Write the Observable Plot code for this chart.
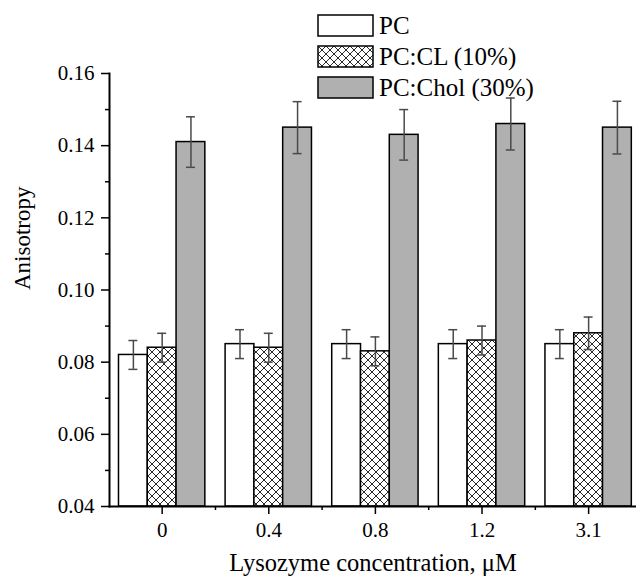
<!DOCTYPE html>
<html>
<head>
<meta charset="utf-8">
<script src="https://cdn.jsdelivr.net/npm/d3@7"></script>
<script src="https://cdn.jsdelivr.net/npm/@observablehq/plot@0.6"></script>
<style>
  html, body { margin: 0; padding: 0; background: white; }
  #chart { width: 636px; height: 577px; position: relative; }
</style>
</head>
<body>
<div id="chart"></div>
<script>
// ---- data ----
const categories = ["0", "0.4", "0.8", "1.2", "3.1"];
const seriesNames = ["PC", "PC:CL (10%)", "PC:Chol (30%)"];
const pcValues   = [0.082, 0.085, 0.085, 0.085, 0.085];
const pcErrors   = [0.004, 0.004, 0.004, 0.004, 0.004];
const clValues   = [0.084, 0.084, 0.083, 0.086, 0.088];
const clErrors   = [0.004, 0.004, 0.004, 0.004, 0.0045];
const cholValues = [0.141, 0.145, 0.143, 0.146, 0.145];
const cholErrors = [0.007, 0.0072, 0.007, 0.0072, 0.0073];
const yTicks = [0.04, 0.06, 0.08, 0.10, 0.12, 0.14, 0.16];
const yMinorTicks = [0.05, 0.07, 0.09, 0.11, 0.13, 0.15];
const xTitle = "Lysozyme concentration, \u03BCM";
const yTitle = "Anisotropy";

// ---- build table ----
const values = [pcValues, clValues, cholValues];
const errors = [pcErrors, clErrors, cholErrors];
const rows = [];
categories.forEach((c, i) => seriesNames.forEach((s, j) => {
  rows.push({i, j, series: s, value: values[j][i], err: errors[j][i]});
}));
const BW = 0.27;      // bar width in category units
const CAP = 0.042;    // half cap width in category units
const left = d => d.i + (d.j - 1.5) * BW;
const right = d => d.i + (d.j - 0.5) * BW;
const mid = d => d.i + (d.j - 1) * BW;
const xIdx = categories.map((c, i) => i);
const xMinor = categories.slice(1).map((c, i) => i + 0.5);

const font = "Liberation Serif, Times New Roman, serif";
const HATCH_PLACEHOLDER = "#fefefe";

const bars = (j, fill) => Plot.rectY(rows.filter(d => d.j === j), {
  x1: left, x2: right, y1: () => yTicks[0], y2: "value",
  fill, stroke: "black", strokeWidth: 1.5
});

const plot = Plot.plot({
  width: 636, height: 577,
  marginLeft: 109, marginRight: 0, marginTop: 73, marginBottom: 71,
  style: {fontFamily: font, fontSize: "21px", color: "black", background: "white", overflow: "visible"},
  x: {domain: [-0.494, 4.449], axis: null},
  y: {domain: [yTicks[0], yTicks[yTicks.length - 1]], axis: null},
  marks: [
    bars(0, "white"),
    bars(1, HATCH_PLACEHOLDER),
    bars(2, "#b0b0b0"),
    Plot.ruleX(rows, {x: mid, y1: d => d.value - d.err, y2: d => d.value + d.err, stroke: "#4a4a4a", strokeWidth: 1.5}),
    Plot.ruleY(rows, {x1: d => mid(d) - CAP, x2: d => mid(d) + CAP, y: d => d.value + d.err, stroke: "#4a4a4a", strokeWidth: 1.5}),
    Plot.ruleY(rows, {x1: d => mid(d) - CAP, x2: d => mid(d) + CAP, y: d => d.value - d.err, stroke: "#4a4a4a", strokeWidth: 1.5}),
    Plot.axisY(yTicks, {tickSize: 8, tickPadding: 7, tickFormat: d3.format(".2f"), label: null, strokeWidth: 1.5, fontSize: 21}),
    Plot.axisY(yMinorTicks, {tickSize: 4, text: null, label: null, strokeWidth: 1.5}),
    Plot.axisX(xIdx, {tickSize: 8, tickPadding: 8, tickFormat: i => categories[i], label: null, strokeWidth: 1.5, fontSize: 21}),
    Plot.axisX(xMinor, {tickSize: 4, text: null, label: null, strokeWidth: 1.5}),
    Plot.frame({anchor: "left", strokeWidth: 2}),
    Plot.frame({anchor: "bottom", strokeWidth: 2}),
    Plot.text([xTitle], {frameAnchor: "bottom", dy: 57, lineAnchor: "middle", fontSize: 24.5, fill: "black"}),
    Plot.text([yTitle], {frameAnchor: "left", dx: -87, rotate: -90, lineAnchor: "middle", fontSize: 23, fill: "black"})
  ]
});

// hatch pattern
const NS = "http://www.w3.org/2000/svg";
const defs = document.createElementNS(NS, "defs");
const pat = document.createElementNS(NS, "pattern");
pat.setAttribute("id", "xhatch");
pat.setAttribute("patternUnits", "userSpaceOnUse");
pat.setAttribute("width", "8");
pat.setAttribute("height", "8");
const bg = document.createElementNS(NS, "rect");
bg.setAttribute("width", "8"); bg.setAttribute("height", "8"); bg.setAttribute("fill", "white");
const ln = document.createElementNS(NS, "path");
ln.setAttribute("d", "M-2,-2L10,10M10,-2L-2,10");
ln.setAttribute("stroke", "#2a2a2a"); ln.setAttribute("stroke-width", "1"); ln.setAttribute("fill", "none");
pat.appendChild(bg); pat.appendChild(ln); defs.appendChild(pat);
plot.insertBefore(defs, plot.firstChild);

plot.querySelectorAll("[fill]").forEach(el => {
  if ((el.getAttribute("fill") || "").toLowerCase() === HATCH_PLACEHOLDER) el.setAttribute("fill", "url(#xhatch)");
});

const svg = d3.select(plot);
// legend
const legendFills = ["white", "url(#xhatch)", "#b0b0b0"];
const lg = svg.append("g").attr("transform", "translate(318,15)");
seriesNames.forEach((name, k) => {
  const g = lg.append("g").attr("transform", `translate(0,${k * 31})`);
  g.append("rect").attr("width", 55).attr("height", 21)
    .attr("fill", legendFills[k]).attr("stroke", "black").attr("stroke-width", 1.5);
  g.append("text").attr("x", 61).attr("y", 19).text(name)
    .attr("text-anchor", "start")
    .attr("font-family", font).attr("font-size", 25).attr("fill", "black");
});

document.getElementById("chart").appendChild(plot);
</script>
</body>
</html>
